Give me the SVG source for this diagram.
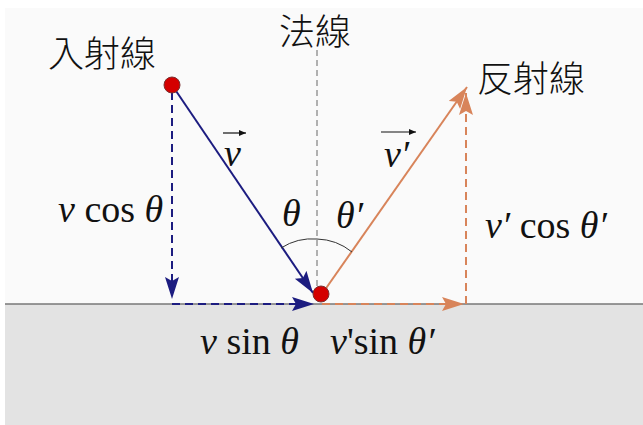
<svg xmlns="http://www.w3.org/2000/svg" width="643" height="425" viewBox="0 0 643 425">
<style>
.cjk{font-family:"Noto Sans CJK TC","Noto Sans CJK JP",sans-serif;font-size:36px;fill:#111;font-weight:300}
.m{font-family:"Liberation Serif","Times New Roman","DejaVu Serif",serif;font-size:38px;fill:#111}
.i{font-style:italic}
.blue{stroke:#1c1c80;stroke-width:2;fill:none}
.orange{stroke:#d8845a;stroke-width:2;fill:none}
.dash{stroke-dasharray:8 5}
.dot{fill:#d40000;stroke:#7a3030;stroke-width:1}
</style>
<defs>
<marker id="ab" markerUnits="userSpaceOnUse" markerWidth="24" markerHeight="16" refX="22" refY="7" orient="auto">
<path d="M0,0 L22,7 L0,14 L4,7 z" fill="#1c1c80"/>
</marker>
<marker id="ao" markerUnits="userSpaceOnUse" markerWidth="24" markerHeight="16" refX="22" refY="7" orient="auto">
<path d="M0,0 L22,7 L0,14 L4,7 z" fill="#d8845a"/>
</marker>
<marker id="ak" markerUnits="userSpaceOnUse" markerWidth="8" markerHeight="6" refX="7" refY="3" orient="auto">
<path d="M0,0 L7,3 L0,6 z" fill="#111"/>
</marker>
</defs>
<g id="background">
<rect x="0" y="0" width="643" height="425" fill="#ffffff"/>
<rect x="5" y="8" width="638" height="296" fill="#fafafa"/>
<rect x="5" y="304" width="638" height="121" fill="#e3e3e3"/>
<line x1="5" y1="304" x2="643" y2="304" stroke="#777" stroke-width="1.5"/>
</g>
<g id="normal">
<line x1="317" y1="50" x2="317" y2="294" stroke="#666" stroke-width="1" stroke-dasharray="6 4"/>
</g>
<g id="connectors">
<line class="blue dash" x1="172" y1="92" x2="172" y2="299" marker-end="url(#ab)"/>
<line class="blue dash" x1="172" y1="304" x2="314" y2="304" marker-end="url(#ab)"/>
<line class="orange dash" x1="322" y1="304" x2="464" y2="304" marker-end="url(#ao)"/>
<line class="orange dash" x1="466" y1="304" x2="466" y2="93" marker-end="url(#ao)"/>
<line class="blue" x1="172" y1="85" x2="313" y2="293" marker-end="url(#ab)"/>
<line class="orange" x1="322" y1="294" x2="467" y2="87" marker-end="url(#ao)"/>
<path d="M281,248 A58,58 0 0 1 317,239" fill="none" stroke="#333" stroke-width="1"/>
<path d="M317,239 A58,58 0 0 1 352,252" fill="none" stroke="#333" stroke-width="1"/>
<line x1="223" y1="133" x2="246" y2="133" stroke="#111" stroke-width="1.2" marker-end="url(#ak)"/>
<line x1="381" y1="132" x2="416" y2="132" stroke="#111" stroke-width="1.2" marker-end="url(#ak)"/>
</g>
<g id="incident-point"><circle class="dot" cx="172" cy="85" r="8"/></g>
<g id="reflection-point"><circle class="dot" cx="321" cy="294" r="8"/></g>
<g id="labels">
<text class="cjk" x="48" y="67">入射線</text>
<text class="cjk" x="279" y="45">法線</text>
<text class="cjk" x="477" y="92">反射線</text>
<text class="m i" x="224" y="166" font-family="Liberation Serif">v</text>
<text class="m i" x="384" y="167" font-family="Liberation Serif">v′</text>
<text class="m i" x="282" y="226" font-family="Liberation Serif">θ</text>
<text class="m i" x="336" y="228" font-family="Liberation Serif">θ′</text>
<text class="m" x="58" y="222" font-family="Liberation Serif"><tspan class="i">v</tspan> cos <tspan class="i">θ</tspan></text>
<text class="m" x="485" y="238" font-family="Liberation Serif"><tspan class="i">v′</tspan> cos <tspan class="i">θ′</tspan></text>
<text class="m" x="200" y="354" font-family="Liberation Serif"><tspan class="i">v</tspan> sin <tspan class="i">θ</tspan></text>
<text class="m" x="330" y="354" font-family="Liberation Serif"><tspan class="i">v</tspan>'sin <tspan class="i">θ′</tspan></text>
</g>
</svg>
